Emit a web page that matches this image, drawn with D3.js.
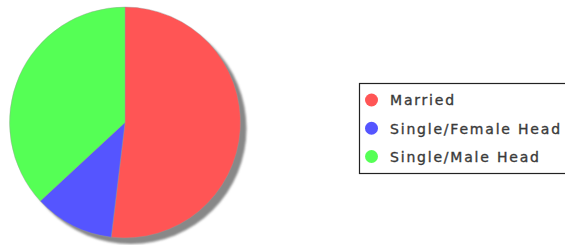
<!DOCTYPE html>
<html><head><meta charset="utf-8">
<script src="https://cdn.jsdelivr.net/npm/d3@7"></script>
<style>html,body{margin:0;padding:0;background:#fff;overflow:hidden;}</style>
</head><body>
<svg id="chart" width="565" height="245"></svg>
<script>
const categories = ["Married", "Single/Female Head", "Single/Male Head"];
const values = [51.9, 11.2, 36.9];
const colors = ["#FF5555", "#5555FF", "#55FF55"];

const svg = d3.select("#chart");
const cx = 125, cy = 122.5, r = 115.5;

const defs = svg.append("defs");
defs.append("filter").attr("id", "blur").append("feGaussianBlur").attr("stdDeviation", 1);
defs.append("filter").attr("id", "blur2").append("feGaussianBlur").attr("stdDeviation", 0.5);

svg.append("circle").attr("cx", cx + 6).attr("cy", cy + 6).attr("r", r)
  .attr("fill", "#888").attr("filter", "url(#blur)");

const pie = d3.pie().sort(null).value(d => d)(values);
const arc = d3.arc().innerRadius(0).outerRadius(r);
const g = svg.append("g").attr("transform", `translate(${cx},${cy})`);
g.selectAll("path").data(pie).join("path")
  .attr("d", arc).attr("fill", (d, i) => colors[i])
  .attr("stroke", "#999").attr("stroke-width", 0.4);

const lg = svg.append("g");
lg.append("rect").attr("x", 359.5).attr("y", 83.5).attr("width", 220).attr("height", 90)
  .attr("fill", "#fff").attr("stroke", "#222").attr("stroke-width", 1.2);
const rowY = d3.scalePoint().domain(categories).range([100, 156.5]);
const items = lg.selectAll("g.item").data(categories).join("g").attr("class", "item");
items.append("circle").attr("cx", 371.5).attr("cy", d => rowY(d)).attr("r", 6.5)
  .attr("fill", (d, i) => colors[i]).attr("filter", "url(#blur2)");
items.append("text").attr("x", 390).attr("y", d => rowY(d) + 5.3)
  .attr("font-family", "DejaVu Sans").attr("font-size", 14).attr("letter-spacing", 1.8)
  .attr("fill", "#3a3a3a").attr("stroke", "#3a3a3a").attr("stroke-width", 0.35)
  .text(d => d);
</script>
</body></html>
